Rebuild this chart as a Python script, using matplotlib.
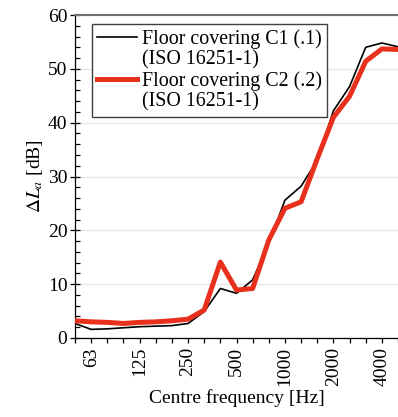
import numpy as np
import matplotlib
matplotlib.use("Agg")
import matplotlib.pyplot as plt
from matplotlib.lines import Line2D

plt.rcParams['font.family'] = ['Liberation Serif', 'DejaVu Serif']
plt.rcParams['mathtext.fontset'] = 'stix'
plt.rcParams['font.size'] = 14

# third-octave band centre frequencies [Hz]
freqs = [50, 63, 80, 100, 125, 160, 200, 250, 315, 400, 500, 630,
         800, 1000, 1250, 1600, 2000, 2500, 3150, 4000, 5000]
shown_labels = ['63', '125', '250', '500', '1000', '2000', '4000']

# reduction of impact sound pressure level, dB
dl_c1 = [2.7, 1.6, 1.7, 1.9, 2.1, 2.2, 2.3, 2.7, 4.9, 9.2, 8.3, 10.8,
         17.6, 25.6, 28.2, 33.0, 42.2, 46.7, 54.0, 54.8, 54.1]
dl_c2 = [3.2, 3.0, 2.9, 2.7, 2.9, 3.0, 3.2, 3.5, 5.2, 14.1, 8.9, 9.2,
         18.2, 24.1, 25.3, 33.3, 41.0, 44.9, 51.4, 53.7, 53.6]

x = np.arange(len(freqs))

fig = plt.figure(figsize=(3.98, 4.17), dpi=100)
ax = fig.add_axes([75/398, 1 - 338/417, 323/398, 323/417])

ax.plot(x, dl_c1, color='black', lw=1.2, zorder=3)
ax.plot(x, dl_c2, color='#e8301c', lw=3.6, zorder=4)

ax.set_xlim(0, 323/16.5)
ax.set_ylim(0, 60)
ax.set_yticks(np.arange(0, 61, 10))
ax.set_yticks(np.arange(0, 61, 2), minor=True)
ax.set_xticks(x)
ax.set_xticklabels([str(f) if str(f) in shown_labels else '' for f in freqs],
                   rotation=90)

ax.grid(axis='y', color='#e6e6e6', lw=1)
ax.set_axisbelow(True)

ax.spines['right'].set_visible(False)
ax.spines['top'].set_color('#707070')
ax.spines['top'].set_linewidth(1.5)
for s in ('left', 'bottom'):
    ax.spines[s].set_color('black')
    ax.spines[s].set_linewidth(0.9)

ax.tick_params(axis='y', which='major', direction='inout', length=7, width=0.9, pad=2)
ax.tick_params(axis='y', which='minor', direction='in', length=3.5, width=0.9)
ax.tick_params(axis='x', which='major', direction='out', length=3.5, width=0.9, pad=3)

ax.set_ylabel(r'$\Delta L_a$ [dB]', labelpad=2)
ax.set_xlabel('Centre frequency [Hz]', labelpad=2)

handles = [Line2D([], [], color='black', lw=1.2),
           Line2D([], [], color='none'),
           Line2D([], [], color='#e8301c', lw=3.6),
           Line2D([], [], color='none')]
labels = ['Floor covering C1 (.1)', '(ISO 16251-1)',
          'Floor covering C2 (.2)', '(ISO 16251-1)']
leg = ax.legend(handles, labels, loc='upper left', fontsize=14.4,
                bbox_to_anchor=(17/323, 314/323), borderaxespad=0,
                handlelength=2.0, handletextpad=0.25, labelspacing=0.07,
                borderpad=0.26, fancybox=False, framealpha=1)
leg.get_frame().set_edgecolor('#404040')
leg.get_frame().set_linewidth(1.0)

fig.savefig('out.png', dpi=100)
